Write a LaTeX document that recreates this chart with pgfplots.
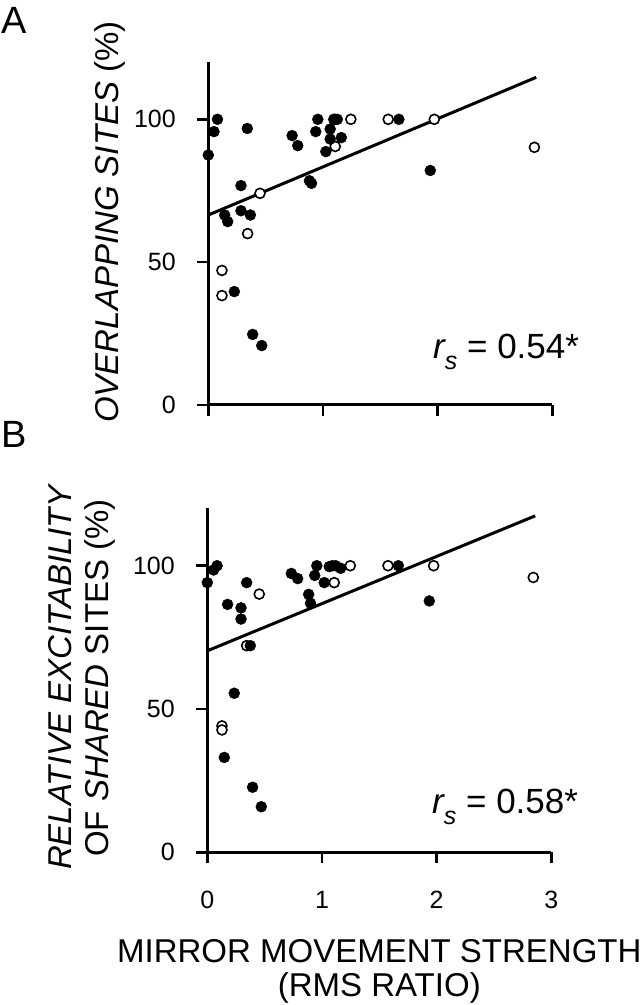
\documentclass[border=0pt]{standalone}
\usepackage{fontspec}
\setmainfont{Liberation Sans}
\usepackage{pgfplots}
\usepackage{pgfplotstable}
\pgfplotsset{compat=1.18}

\pgfplotstableread{
x y
0.00 87.5
0.05 95.7
0.08 100
0.34 96.8
0.285 76.8
0.143 66.5
0.169 64.2
0.285 68.0
0.367 66.5
0.227 39.7
0.387 24.7
0.466 20.8
0.731 94.3
0.78 90.8
0.882 78.5
0.90 77.6
0.955 100
0.937 95.7
1.025 88.7
1.063 96.6
1.063 93.1
1.107 100
1.125 100
1.160 93.6
1.662 100
1.936 82.1
}\Afilled

\pgfplotstableread{
x y
0.119 47.1
0.119 38.3
0.343 60.0
0.451 74.1
1.107 90.5
1.095 100
1.243 100
1.569 100
1.971 100
2.844 90.2
}\Aopen

\pgfplotstableread{
x y
0.00 94.1
0.055 98.5
0.085 100
0.177 86.5
0.294 85.3
0.294 81.4
0.343 94.1
0.375 72.1
0.235 55.5
0.148 33.1
0.395 22.7
0.471 15.9
0.733 97.3
0.788 95.5
0.884 90.0
0.900 86.9
0.955 100
0.937 96.6
1.020 94.1
1.064 99.7
1.090 100
1.119 100
1.163 99.1
1.666 100
1.936 87.7
}\Bfilled

\pgfplotstableread{
x y
0.128 44.1
0.128 42.7
0.343 72.1
0.453 90.1
1.107 94.1
1.247 100
1.576 100
1.974 100
2.843 95.9
}\Bopen

\pgfplotsset{
  myax/.style={
    scale only axis, width=344pt,
    xmin=0, xmax=3, ymin=0, ymax=120,
    axis lines=left, axis line style={-, line width=3pt, black},
    xtick={0,1,2,3}, ytick={0,50,100},
    tick align=outside, major tick length=11pt,
    tick style={line width=2.5pt, black},
    ticklabel style={font=\fontsize{25}{30}\selectfont},
    yticklabel style={xshift=-18pt},
    xticklabel style={yshift=-24pt},
    /pgf/number format/assume math mode=true,
    clip=false,
  },
  openm/.style={only marks, mark=*, mark size=5pt, mark options={fill=white, draw=black, line width=1.6pt}},
  fillm/.style={only marks, mark=*, mark size=5.5pt, mark options={fill=black, draw=black}},
  regl/.style={no marks, black, line width=3pt},
}

\begin{document}
\begin{tikzpicture}[x=1pt,y=1pt]
\path[use as bounding box] (0,0) rectangle (640,1005);
\node[anchor=north west, inner sep=0pt, font=\fontsize{38}{42}\selectfont] at (1,998) {A};
\node[anchor=north west, inner sep=0pt, font=\fontsize{38}{42}\selectfont] at (1,584) {B};

\begin{axis}[myax, height=342.8pt, at={(208.3pt,600pt)}, anchor=south west,
  xticklabels={},
  ylabel={{\itshape OVERLAPPING SITES} (\%)},
  ylabel style={font=\fontsize{33}{38}\selectfont, at={(axis description cs:-0.285,0.534)}, anchor=center, rotate=0},
]
\addplot[regl] coordinates {(0,66.5) (2.86,114.7)};
\addplot[openm] table {\Aopen};
\addplot[fillm] table {\Afilled};
\node[anchor=base west, inner sep=0pt, font=\fontsize{35}{40}\selectfont] at (axis cs:1.96,16.4)
  {\itshape r\raisebox{-0.32em}{\fontsize{25}{27}\selectfont\itshape s}\upshape{} = 0.54*};
\end{axis}

\begin{axis}[myax, height=343.9pt, at={(207.3pt,152.7pt)}, anchor=south west,
  ylabel={{\itshape RELATIVE EXCITABILITY}\\OF {\itshape SHARED} SITES (\%)},
  ylabel style={font=\fontsize{33}{37}\selectfont, align=center, at={(axis description cs:-0.364,0.507)}, anchor=center},
  xlabel={MIRROR MOVEMENT STRENGTH\\(RMS RATIO)},
  xlabel style={font=\fontsize{33}{34}\selectfont, align=center, at={(axis description cs:0.5,-0.345)}, anchor=center},
]
\addplot[regl] coordinates {(0,70.3) (2.86,117.4)};
\addplot[openm] table {\Bopen};
\addplot[fillm] table {\Bfilled};
\node[anchor=base west, inner sep=0pt, font=\fontsize{35}{40}\selectfont] at (axis cs:1.96,13.7)
  {\itshape r\raisebox{-0.32em}{\fontsize{25}{27}\selectfont\itshape s}\upshape{} = 0.58*};
\end{axis}
\end{tikzpicture}
\end{document}
